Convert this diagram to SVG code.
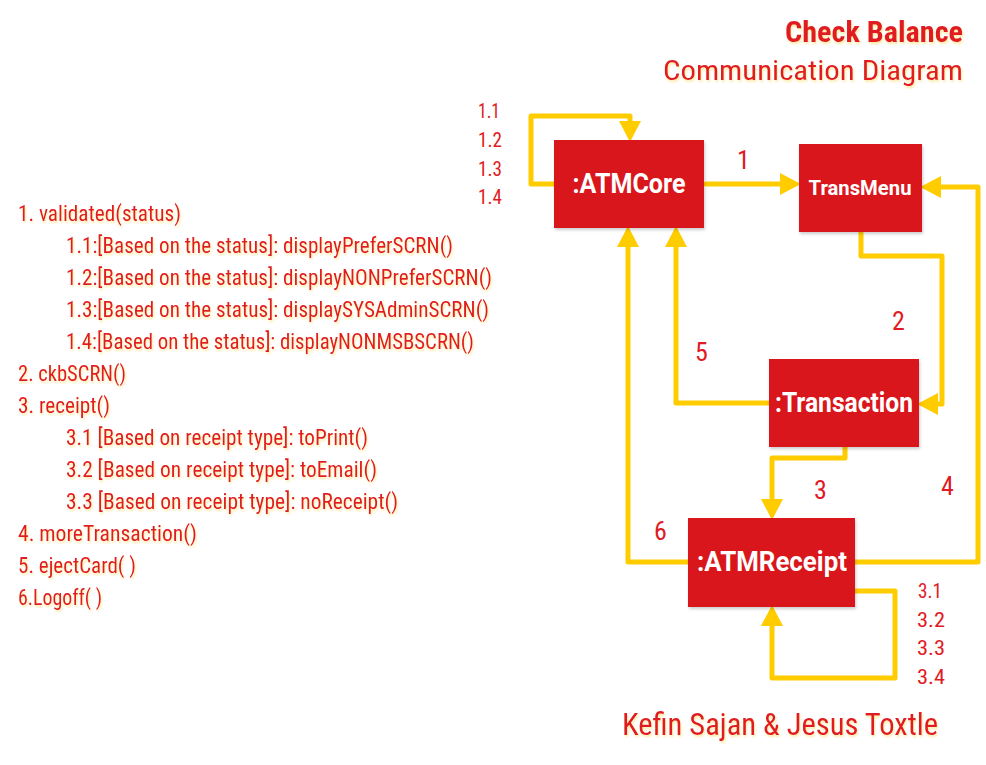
<svg xmlns="http://www.w3.org/2000/svg" width="986" height="765" viewBox="0 0 986 765">
<style>
.t{font-family:"Roboto Condensed","Liberation Sans Narrow",Roboto,"Liberation Sans",sans-serif;fill:#E01B24;}
.list{font-size:22.5px;}
.num{font-size:26px;}
.sub{font-size:21px;}
.node rect{fill:#D9181F;filter:url(#sh);}
.node text{font-family:Roboto,"Liberation Sans",sans-serif;font-weight:bold;fill:#fff;text-anchor:middle;}
.conn path{fill:none;stroke:#FFCC00;stroke-width:5;stroke-linejoin:round;stroke-linecap:round;}
</style>
<defs>
<filter id="sh" x="-10%" y="-10%" width="125%" height="130%">
<feDropShadow dx="1" dy="2" stdDeviation="1.5" flood-color="#000" flood-opacity="0.2"/>
</filter>
<filter id="glow" x="-5%" y="-20%" width="110%" height="150%">
<feDropShadow dx="1" dy="2" stdDeviation="1.2" flood-color="#F5C000" flood-opacity="0.35"/>
</filter>
<marker id="ah" markerUnits="userSpaceOnUse" markerWidth="22" markerHeight="24" refX="0" refY="10" orient="auto" viewBox="0 0 20 20">
<path d="M0,0 L19,10 L0,20 z" fill="#FFCC00"/>
</marker>
</defs>
<rect width="986" height="765" fill="#fff"/>

<g id="title" class="t" filter="url(#glow)">
<text x="963" y="42" font-size="29" font-weight="bold" text-anchor="end" textLength="178" lengthAdjust="spacingAndGlyphs">Check Balance</text>
<text x="963" y="80" font-size="28" text-anchor="end" textLength="300" lengthAdjust="spacingAndGlyphs">Communication Diagram</text>
</g>

<g id="legend" class="t list" filter="url(#glow)">
<text x="18" y="221" textLength="163" lengthAdjust="spacingAndGlyphs">1. validated(status)</text>
<text x="66" y="253" textLength="387" lengthAdjust="spacingAndGlyphs">1.1:[Based on the status]: displayPreferSCRN()</text>
<text x="66" y="285" textLength="426" lengthAdjust="spacingAndGlyphs">1.2:[Based on the status]: displayNONPreferSCRN()</text>
<text x="66" y="317" textLength="423" lengthAdjust="spacingAndGlyphs">1.3:[Based on the status]: displaySYSAdminSCRN()</text>
<text x="66" y="349" textLength="408" lengthAdjust="spacingAndGlyphs">1.4:[Based on the status]: displayNONMSBSCRN()</text>
<text x="18" y="381" textLength="108" lengthAdjust="spacingAndGlyphs">2. ckbSCRN()</text>
<text x="18" y="413" textLength="92" lengthAdjust="spacingAndGlyphs">3. receipt()</text>
<text x="66" y="445" textLength="302" lengthAdjust="spacingAndGlyphs">3.1 [Based on receipt type]: toPrint()</text>
<text x="66" y="477" textLength="311" lengthAdjust="spacingAndGlyphs">3.2 [Based on receipt type]: toEmail()</text>
<text x="66" y="509" textLength="332" lengthAdjust="spacingAndGlyphs">3.3 [Based on receipt type]: noReceipt()</text>
<text x="18" y="541" textLength="179" lengthAdjust="spacingAndGlyphs">4. moreTransaction()</text>
<text x="18" y="573" textLength="118" lengthAdjust="spacingAndGlyphs">5. ejectCard( )</text>
<text x="18" y="605" textLength="84" lengthAdjust="spacingAndGlyphs">6.Logoff( )</text>
</g>

<g id="connectors" class="conn">
<path d="M556,184 H531 V116 H630 V121" marker-end="url(#ah)"/>
<path d="M706,184 H780" marker-end="url(#ah)"/>
<path d="M861,232 V256 H942 V404 H938" marker-end="url(#ah)"/>
<path d="M855,562 H978 V187 H941" marker-end="url(#ah)"/>
<path d="M772,403 H676 V247" marker-end="url(#ah)"/>
<path d="M690,562 H628 V247" marker-end="url(#ah)"/>
<path d="M845,447 V458 H772 V499" marker-end="url(#ah)"/>
<path d="M855,591 H895 V678 H772 V626" marker-end="url(#ah)"/>
</g>

<g id="labels" class="t sub">
<text x="478" y="118" textLength="22" lengthAdjust="spacingAndGlyphs">1.1</text>
<text x="478" y="147" textLength="24" lengthAdjust="spacingAndGlyphs">1.2</text>
<text x="478" y="176" textLength="24" lengthAdjust="spacingAndGlyphs">1.3</text>
<text x="478" y="204" textLength="24" lengthAdjust="spacingAndGlyphs">1.4</text>
<text x="918" y="598" textLength="24" lengthAdjust="spacingAndGlyphs">3.1</text>
<text x="917" y="627" textLength="28" lengthAdjust="spacingAndGlyphs">3.2</text>
<text x="917" y="655" textLength="28" lengthAdjust="spacingAndGlyphs">3.3</text>
<text x="917" y="684" textLength="28" lengthAdjust="spacingAndGlyphs">3.4</text>
<text class="num" x="737" y="169">1</text>
<text class="num" x="892" y="330">2</text>
<text class="num" x="814" y="499">3</text>
<text class="num" x="941" y="495">4</text>
<text class="num" x="695" y="361">5</text>
<text class="num" x="654" y="540">6</text>
</g>

<g id="ATMCore" class="node">
<rect x="554" y="140" width="150" height="88"/>
<text x="629" y="193" font-size="27" textLength="113" lengthAdjust="spacingAndGlyphs">:ATMCore</text>
</g>
<g id="TransMenu" class="node">
<rect x="799" y="144" width="123" height="88"/>
<text x="860" y="195" font-size="21" textLength="103" lengthAdjust="spacingAndGlyphs">TransMenu</text>
</g>
<g id="Transaction" class="node">
<rect x="769" y="359" width="150" height="88"/>
<text x="844" y="412" font-size="27" textLength="138" lengthAdjust="spacingAndGlyphs">:Transaction</text>
</g>
<g id="ATMReceipt" class="node">
<rect x="688" y="518" width="167" height="89"/>
<text x="772" y="571" font-size="27" textLength="150" lengthAdjust="spacingAndGlyphs">:ATMReceipt</text>
</g>

<g id="footer" class="t" filter="url(#glow)">
<text x="622" y="735" font-size="31" textLength="316" lengthAdjust="spacingAndGlyphs">Kefin Sajan &amp; Jesus Toxtle</text>
</g>
</svg>
